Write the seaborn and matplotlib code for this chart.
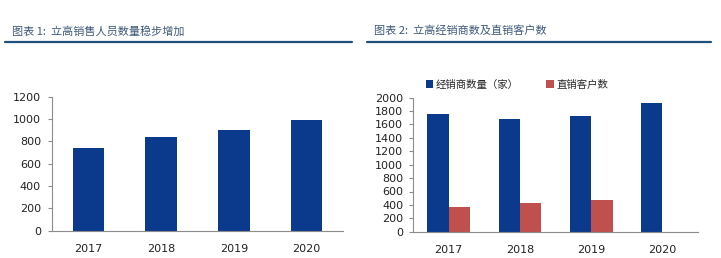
import matplotlib
matplotlib.use("Agg")
import matplotlib.pyplot as plt
from matplotlib.lines import Line2D
from matplotlib.patches import Patch
import seaborn as sns
import pandas as pd
import numpy as np

sns.set_style("white")
plt.rcParams['font.family'] = ['Noto Sans CJK SC', 'DejaVu Sans']

years = ["2017", "2018", "2019", "2020"]
sales_staff = [738, 836, 902, 994]
dealers = [1750, 1680, 1725, 1915]
direct_clients = [365, 424, 472, np.nan]
series_names = ["经销商数量（家）", "直销客户数"]
title1 = "图表 1:  立高销售人员数量稳步增加"
title2 = "图表 2:  立高经销商数及直销客户数"

blue = "#0b3a8c"
red = "#c0504d"
title_color = "#3d5878"
line_color = "#1f4f7c"
spine_color = "#8c8c8c"

fig = plt.figure(figsize=(7.21, 2.58), dpi=100)

# Titles and underlines
fig.text(12/721, 1-31/258, title1, fontsize=8, color=title_color, style="italic", va="center")
fig.text(374/721, 1-31/258, title2, fontsize=8, color=title_color, style="italic", va="center")
fig.add_artist(Line2D([5/721, 352/721], [1-42/258, 1-42/258], color=line_color, lw=1.6))
fig.add_artist(Line2D([367/721, 711/721], [1-42/258, 1-42/258], color=line_color, lw=1.6))

# Left chart
ax1 = fig.add_axes([52/721, 1-230.7/258, (343-52)/721, (230.7-96.7)/258])
df1 = pd.DataFrame({"year": years, "value": sales_staff})
sns.barplot(data=df1, x="year", y="value", color=blue, width=0.43, saturation=1,
            linewidth=0, ax=ax1)
ax1.set_ylim(0, 1200)
ax1.set_yticks(range(0, 1201, 200))
ax1.set_xlim(-0.5, 3.5)

# Right chart
ax2 = fig.add_axes([413/721, 1-231.7/258, (698-413)/721, (231.7-97.7)/258])
df2 = pd.DataFrame({
    "year": years * 2,
    "series": [series_names[0]] * 4 + [series_names[1]] * 4,
    "value": dealers + direct_clients,
})
sns.barplot(data=df2, x="year", y="value", hue="series", hue_order=series_names,
            palette=[blue, red], width=0.6, saturation=1, linewidth=0, ax=ax2, legend=False)
ax2.set_ylim(0, 2000)
ax2.set_yticks(range(0, 2001, 200))
ax2.set_xlim(-0.5, 3.5)

handles = [Patch(facecolor=blue, edgecolor="none"), Patch(facecolor=red, edgecolor="none")]
ax2.legend(handles, series_names, loc="lower left", bbox_to_anchor=(0.03, 1.03),
           ncol=2, frameon=False, fontsize=7.5, handlelength=0.7, handleheight=0.7,
           handletextpad=0.3, columnspacing=2.6, borderaxespad=0)

for ax, pad in ((ax1, 5), (ax2, 4)):
    for s in ("top", "right"):
        ax.spines[s].set_visible(False)
    for s in ("left", "bottom"):
        ax.spines[s].set_color(spine_color)
        ax.spines[s].set_linewidth(0.8)
    ax.set_xlabel("")
    ax.set_ylabel("")
    ax.tick_params(axis="y", which="both", left=True, length=3, color=spine_color,
                   labelsize=8, labelcolor="#222222", pad=pad)
    ax.tick_params(axis="x", bottom=False, labelsize=8, labelcolor="#222222", pad=6)
    for lab in ax.get_xticklabels() + ax.get_yticklabels():
        lab.set_family(["DejaVu Sans"])

fig.savefig("out.png", dpi=100)
